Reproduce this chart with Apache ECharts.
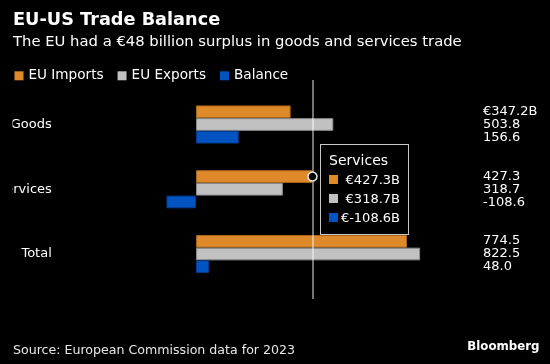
<!DOCTYPE html>
<html>
<head>
<meta charset="utf-8">
<script src="https://cdn.jsdelivr.net/npm/echarts@6/dist/echarts.min.js"></script>
<style>
  html, body { margin: 0; padding: 0; background: #000; }
  #chart { width: 550px; height: 364px; position: relative; }
</style>
</head>
<body>
<div id="chart"></div>
<script>
const categories = ['Goods', 'Services', 'Total'];
const seriesNames = ['EU Imports', 'EU Exports', 'Balance'];
const euImports = [347.2, 427.3, 774.5];
const euExports = [503.8, 318.7, 822.5];
const balance = [156.6, -108.6, 48.0];
const hoverIndex = 1;

const colors = ['#de8a2a', '#c1c1c1', '#0053c0'];
const borders = ['#a8661c', '#8c8c8c', '#003c8c'];
const FONT = '"DejaVu Sans", sans-serif';

const chart = echarts.init(document.getElementById('chart'), null, { renderer: 'canvas' });

function barSeries(name, data, idx) {
  return {
    name: name,
    type: 'bar',
    xAxisIndex: 0,
    yAxisIndex: 0,
    data: data,
    barWidth: 12.7,
    barGap: '0%',
    itemStyle: { color: colors[idx], borderColor: borders[idx], borderWidth: 1 },
    emphasis: { disabled: true },
    z: 2
  };
}

const s0 = barSeries(seriesNames[0], euImports, 0);
s0.markPoint = {
  z: 8,
  silent: true,
  symbol: 'circle',
  symbolSize: 9,
  label: { show: false },
  itemStyle: { color: '#000', borderColor: '#e6e6e6', borderWidth: 1.5 },
  data: [{ coord: [euImports[hoverIndex], categories[hoverIndex]] }]
};

const option = {
  backgroundColor: '#000',
  animation: false,
  textStyle: { fontFamily: FONT },
  legend: {
    data: seriesNames,
    left: 14.5,
    top: 68.8,
    padding: 0,
    icon: 'rect',
    itemWidth: 9,
    itemHeight: 9,
    itemGap: 14,
    selectedMode: false,
    itemStyle: { borderWidth: 0 },
    textStyle: { color: '#ffffff', fontSize: 13.6, fontFamily: FONT }
  },
  grid: [
    { left: 59.8, right: 81.5, top: 92.1, bottom: 77.6, outerBoundsMode: 'none', containLabel: false },
    { left: 59.8, right: 81.5, top: 80, bottom: 65, outerBoundsMode: 'none', containLabel: false }
  ],
  xAxis: [
    { type: 'value', gridIndex: 0, min: -500, max: 1000, show: false },
    { type: 'value', gridIndex: 1, min: -500, max: 1000, show: false }
  ],
  yAxis: [
    {
      type: 'category', gridIndex: 0, data: categories, inverse: true, position: 'left',
      axisLine: { show: false }, axisTick: { show: false }, splitLine: { show: false },
      axisLabel: { color: '#ffffff', fontSize: 13, fontFamily: FONT, margin: 8 }
    },
    {
      type: 'category', gridIndex: 0, data: categories, inverse: true, position: 'right',
      axisLine: { show: false }, axisTick: { show: false }, splitLine: { show: false },
      axisLabel: {
        color: '#ffffff', fontSize: 13, fontFamily: FONT, margin: 14.5, lineHeight: 13, align: 'left',
        formatter: function (v, i) {
          const first = i === 0 ? '€' + euImports[i].toFixed(1) + 'B' : euImports[i].toFixed(1);
          return first + '\n' + euExports[i].toFixed(1) + '\n' + balance[i].toFixed(1);
        }
      }
    },
    { type: 'value', gridIndex: 1, min: 0, max: 1, show: false }
  ],
  tooltip: {
    trigger: 'axis',
    triggerOn: 'none',
    alwaysShowContent: true,
    transitionDuration: 0,
    axisPointer: { type: 'none' },
    position: [320, 144],
    backgroundColor: '#000000',
    borderColor: '#c8c8c8',
    borderWidth: 1,
    padding: [6, 8, 7, 8],
    extraCssText: 'box-shadow:none;border-radius:0;',
    textStyle: { color: '#ffffff', fontFamily: FONT, fontSize: 13 },
    formatter: function (params) {
      const i = params[0].dataIndex;
      const vals = [euImports[i], euExports[i], balance[i]];
      let html = '<div style="font-family:' + FONT.replace(/"/g, "'") + ';color:#fff;">';
      html += '<div style="height:19px;line-height:19px;font-size:14px;">' + categories[i] + '</div>';
      vals.forEach(function (v, k) {
        html += '<div style="display:flex;align-items:center;height:19px;line-height:19px;font-size:13px;">' +
          '<span style="display:inline-block;width:9px;height:9px;background:' + colors[k] + ';"></span>' +
          '<span style="display:inline-block;width:62px;text-align:right;">€' + v.toFixed(1) + 'B</span></div>';
      });
      html += '</div>';
      return html;
    }
  },
  graphic: [
    { type: 'rect', z: 100, silent: true, shape: { x: 0, y: 90, width: 12.5, height: 210 }, style: { fill: '#000' } },
    { type: 'text', z: 100, x: 13, y: 20.5, style: { text: 'EU-US Trade Balance', fill: '#ffffff', font: 'bold 17.7px ' + FONT, verticalAlign: 'middle' } },
    { type: 'text', z: 100, x: 13, y: 42, style: { text: 'The EU had a €48 billion surplus in goods and services trade', fill: '#ffffff', font: '14.8px ' + FONT, verticalAlign: 'middle' } },
    { type: 'text', z: 100, x: 13, y: 351, style: { text: 'Source: European Commission data for 2023', fill: '#e6e6e6', font: '12.6px ' + FONT, verticalAlign: 'middle' } },
    { type: 'text', z: 100, x: 539.5, y: 347, style: { text: 'Bloomberg', fill: '#ffffff', font: 'bold 11.8px ' + FONT, verticalAlign: 'middle', align: 'right' } }
  ],
  series: [
    s0,
    barSeries(seriesNames[1], euExports, 1),
    barSeries(seriesNames[2], balance, 2),
    {
      type: 'line',
      xAxisIndex: 1,
      yAxisIndex: 2,
      data: [[euImports[hoverIndex], 0.5]],
      symbol: 'none',
      showSymbol: false,
      silent: true,
      lineStyle: { opacity: 0 },
      z: 3,
      markLine: {
        z: 4,
        silent: true,
        symbol: ['none', 'none'],
        label: { show: false },
        lineStyle: { color: 'rgba(255,255,255,0.45)', width: 2, type: 'solid' },
        data: [{ xAxis: euImports[hoverIndex] }]
      }
    }
  ]
};

chart.setOption(option);
chart.dispatchAction({ type: 'showTip', seriesIndex: 0, dataIndex: hoverIndex });
</script>
</body>
</html>
